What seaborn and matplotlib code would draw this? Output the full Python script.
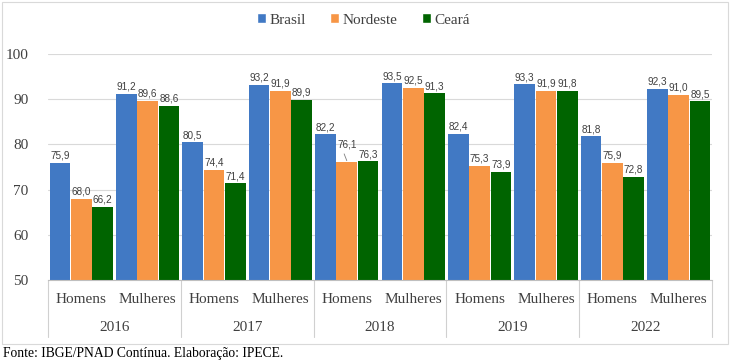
import pandas as pd
import seaborn as sns
import matplotlib.pyplot as plt
import matplotlib.transforms as mtransforms
from matplotlib.patches import Rectangle, Patch

# Data
anos = ['2016', '2017', '2018', '2019', '2022']
sexos = ['Homens', 'Mulheres']
regioes = ['Brasil', 'Nordeste', 'Ceará']
brasil = [75.9, 91.2, 80.5, 93.2, 82.2, 93.5, 82.4, 93.3, 81.8, 92.3]
nordeste = [68.0, 89.6, 74.4, 91.9, 76.1, 92.5, 75.3, 91.9, 75.9, 91.0]
ceara = [66.2, 88.6, 71.4, 89.9, 76.3, 91.3, 73.9, 91.8, 72.8, 89.5]
cores = ['#4179c4', '#f79646', '#006400']
fonte = 'Fonte: IBGE/PNAD Contínua. Elaboração: IPECE.'

grupos = [a + '-' + s for a in anos for s in sexos]
df = pd.DataFrame({'grupo': grupos * 3,
                   'regiao': [r for r in regioes for _ in grupos],
                   'valor': brasil + nordeste + ceara})

sns.set_style('white')
plt.rcParams['font.family'] = ['Liberation Serif', 'DejaVu Serif']

fig = plt.figure(figsize=(7.31, 3.60), dpi=100)
ax = fig.add_axes([48/731, 80/360, 664/731, 226/360])

sns.barplot(data=df, x='grupo', y='valor', hue='regiao', order=grupos,
            hue_order=regioes, palette=cores, width=0.96, gap=0.03,
            saturation=1, legend=False, ax=ax, edgecolor='none')

ax.set_ylim(50, 100)
ax.set_yticks([50, 60, 70, 80, 90, 100])
ax.set_xlim(-0.5, len(grupos) - 0.5)
ax.set_xlabel('')
ax.set_ylabel('')
ax.set_xticks([])
ax.yaxis.grid(True, color='#d9d9d9', linewidth=0.8)
ax.set_axisbelow(True)
for s in ['top', 'right', 'left']:
    ax.spines[s].set_visible(False)
ax.spines['bottom'].set_color('#bfbfbf')
ax.spines['bottom'].set_linewidth(0.8)
ax.tick_params(axis='y', length=0, pad=14, labelsize=11, labelcolor='#404040')

# data labels
for cont in ax.containers:
    for p in cont:
        v = p.get_height()
        txt = f'{v:.1f}'.replace('.', ',')
        x = p.get_x() + p.get_width() / 2
        dy = 1.5
        if abs(v - 76.1) < 0.01:
            dy = 9
            ax.plot([x, x - 0.04], [v + 0.3, v + 1.8], color='#7f7f7f', lw=0.6)
        ax.annotate(txt, (x, v), xytext=(0, dy), textcoords='offset points',
                    ha='center', va='bottom', fontsize=7.2, color='#404040',
                    family='Liberation Sans')

# category labels below the axis
trans = mtransforms.blended_transform_factory(ax.transData, ax.transAxes)
for i, g in enumerate(grupos):
    ax.text(i, -0.088, g.split('-')[1], transform=trans, ha='center', va='center',
            fontsize=11, color='#404040')
for j, a in enumerate(anos):
    ax.text(2 * j + 0.5, -0.212, a, transform=trans, ha='center', va='center',
            fontsize=11, color='#404040')
for k in range(len(anos) + 1):
    ax.plot([2 * k - 0.5] * 2, [0, -0.252], transform=trans, clip_on=False,
            color='#d0d0d0', lw=0.8)

# legend
handles = [Patch(facecolor=c, label=r) for c, r in zip(cores, regioes)]
fig.legend(handles=handles, loc='center', bbox_to_anchor=(0.497, 1 - 20/360),
           ncol=3, frameon=False, prop={'family': 'Liberation Serif', 'size': 11},
           handlelength=0.6, handleheight=0.6,
           handletextpad=0.2, columnspacing=1.6, labelcolor='#404040')

# outer frame
fig.patches.append(Rectangle((2/731, 16/360), 726/731, 342/360, transform=fig.transFigure,
                             fill=False, edgecolor='#d9d9d9', lw=0.8))

fig.text(3/731, 1 - 353/360, fonte, ha='left', va='center', fontsize=9.8, color='black')

fig.savefig('out.png', dpi=100)
